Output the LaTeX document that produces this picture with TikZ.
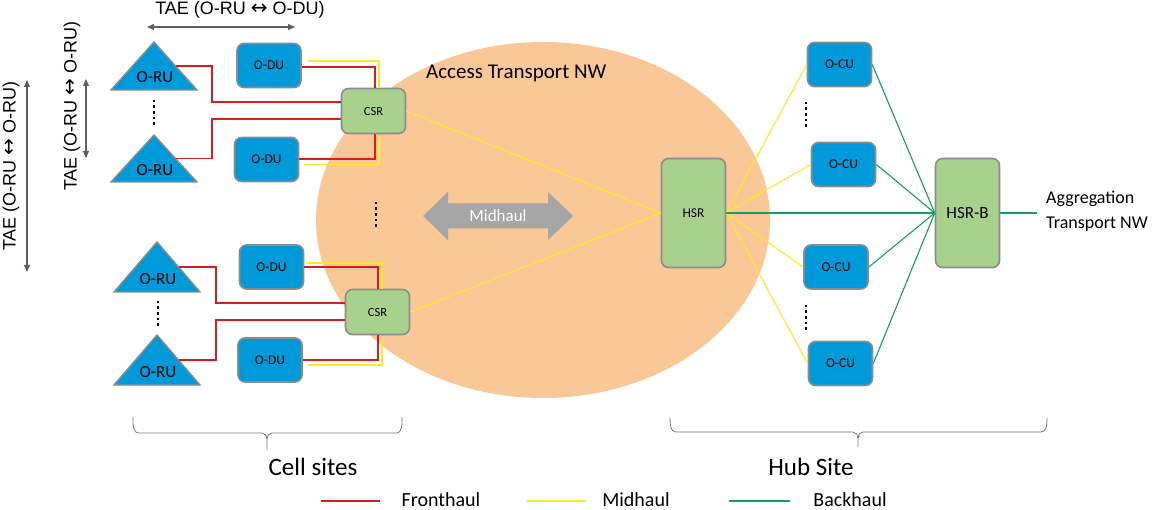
\documentclass[tikz,border=0pt]{standalone}
\usepackage{fontspec}
\setmainfont{Carlito}
\newfontfamily\arialf{Liberation Sans}
\newfontfamily\dejavu{DejaVu Sans}
\usetikzlibrary{arrows.meta,calc}
\definecolor{bluebox}{RGB}{0,154,218}
\definecolor{greenbox}{RGB}{169,209,142}
\definecolor{boxborder}{RGB}{140,140,140}
\definecolor{peach}{RGB}{250,199,150}
\definecolor{fhred}{RGB}{215,30,30}
\definecolor{mhyellow}{RGB}{255,232,40}
\definecolor{bhgreen}{RGB}{20,160,90}
\definecolor{taegray}{RGB}{95,95,95}
\definecolor{midgray}{RGB}{166,166,166}
\definecolor{bracegray}{RGB}{120,120,120}
\tikzset{
  bluebx/.style={draw=boxborder, line width=1.6pt, fill=bluebox, rounded corners=7pt, minimum width=64pt, minimum height=44pt, inner sep=0pt, font=\fontsize{13.5}{15}\selectfont},
  greenbx/.style={draw=boxborder, line width=1.6pt, fill=greenbox, rounded corners=7pt, minimum width=64pt, inner sep=0pt, font=\fontsize{13.5}{15}\selectfont},
  tri/.style={draw=boxborder, line width=1.4pt, fill=bluebox, line join=miter},
  trilabel/.style={font=\fontsize{17}{19}\selectfont, inner sep=0pt},
  fh/.style={draw=fhred, line width=1.1pt},
  mh/.style={draw=mhyellow, line width=1.1pt},
  bh/.style={draw=bhgreen, line width=1.1pt},
  taearrow/.style={draw=taegray, line width=1.1pt, {Triangle[width=6pt,length=7pt]}-{Triangle[width=6pt,length=7pt]}},
  taetext/.style={font=\arialf\fontsize{18}{20}\selectfont, inner sep=0pt},
  bracepath/.style={draw=bracegray, line width=0.8pt},
  lbl/.style={inner sep=0pt},
  legtext/.style={inner sep=0pt, font=\fontsize{20}{22}\selectfont},
}
\newcommand{\dotcol}[2]{\foreach \k in {0,...,4} {\fill (#1-1.3,#2+\k*5.7-1.3) rectangle ++(2.6,2.6);}}
\newcommand{\lrarr}{{\dejavu\fontsize{20}{20}\selectfont ↔}}
\begin{document}
\begin{tikzpicture}[x=1pt,y=-1pt]
\useasboundingbox (0,0) rectangle (1164,510);
% ellipse
\fill[peach] (543,220) ellipse [x radius=227, y radius=178];
\node[lbl, anchor=west, font=\fontsize{21}{23}\selectfont] (atnw) at (426,73) {Access Transport NW};

% TAE arrows and labels
\coordinate (th1) at (147,27); \coordinate (th2) at (295,27);
\draw[taearrow] (th1) -- (th2);
\node[taetext] (taeh) at (240,10) {TAE (O-RU \lrarr\ O-DU)};
\coordinate (tv1a) at (86,79); \coordinate (tv1b) at (86,158);
\draw[taearrow] (tv1a) -- (tv1b);
\node[taetext, rotate=90] (taev1) at (72,106) {TAE (O-RU \lrarr\ O-RU)};
\coordinate (tv2a) at (27,80); \coordinate (tv2b) at (27,272);
\draw[taearrow] (tv2a) -- (tv2b);
\node[taetext, rotate=90] (taev2) at (11,166) {TAE (O-RU \lrarr\ O-RU)};

% O-RU triangles
\draw[tri] (111,90) -- (154,42) -- (197,90) -- cycle;
\node[trilabel] (oru1) at (155,77) {O-RU};
\coordinate (oru1r) at (175.5,66);
\draw[tri] (111,182) -- (154,135) -- (197,182) -- cycle;
\node[trilabel] (oru2) at (155,170) {O-RU};
\coordinate (oru2r) at (175.5,158.5);
\draw[tri] (114,292) -- (157,242) -- (200,292) -- cycle;
\node[trilabel] (oru3) at (158,279) {O-RU};
\coordinate (oru3r) at (178.5,267);
\draw[tri] (114,385) -- (157,335) -- (200,385) -- cycle;
\node[trilabel] (oru4) at (158,372) {O-RU};
\coordinate (oru4r) at (178.5,360);

% dots
\dotcol{154}{101}
\dotcol{158}{302}
\dotcol{376}{203}
\dotcol{806}{103}
\dotcol{806}{306}

% O-DU boxes
\node[bluebx] (odu1) at (269,65.5) {O-DU};
\node[bluebx] (odu2) at (266.5,159.5) {O-DU};
\node[bluebx] (odu3) at (271.5,267) {O-DU};
\node[bluebx] (odu4) at (270,360) {O-DU};

% CSR
\node[greenbx, minimum height=45pt, font=\fontsize{12.5}{14}\selectfont] (csr1) at (373.5,111) {CSR};
\node[greenbx, minimum height=45pt, font=\fontsize{12.5}{14}\selectfont] (csr2) at (377.5,312) {CSR};

% HSR, HSR-B
\node[greenbx, minimum height=109pt] (hsr) at (693.5,213) {HSR};
\node[greenbx, minimum height=109pt, font=\fontsize{17}{19}\selectfont] (hsrb) at (967.5,213) {HSR-B};

% O-CU
\node[bluebx] (ocu1) at (839.5,64.5) {O-CU};
\node[bluebx] (ocu2) at (843.5,164.5) {O-CU};
\node[bluebx] (ocu3) at (836,267) {O-CU};
\node[bluebx] (ocu4) at (840.5,363.5) {O-CU};

% Midhaul big arrow
\fill[midgray] (423,216) -- (448,192) -- (448,203.5) -- (548,203.5) -- (548,192) -- (573,216) -- (548,240) -- (548,228.5) -- (448,228.5) -- (448,240) -- cycle;
\node[lbl, text=white, font=\fontsize{17}{19}\selectfont] (midlbl) at (498,216) {Midhaul};

% Fronthaul lines
\draw[fh] (oru1r) -- ++(36.5,0) |- ([yshift=9pt]csr1.west);
\draw[fh] (oru2r) -- ++(36.5,0) |- ([yshift=-8pt]csr1.west);
\draw[fh] ([yshift=-1.5pt]odu1.east) -| ([xshift=1.5pt]csr1.north);
\draw[fh] ([yshift=0.5pt]odu2.east) -| ([xshift=1.5pt]csr1.south);
\draw[fh] (oru3r) -- ++(37.5,0) |- ([yshift=9pt]csr2.west);
\draw[fh] (oru4r) -- ++(37.5,0) |- ([yshift=-8pt]csr2.west);
\draw[fh] (odu3.east) -| ([xshift=0.5pt]csr2.north);
\draw[fh] (odu4.east) -| ([xshift=0.5pt]csr2.south);

% Midhaul yellow lines near CSRs
\draw[mh] ([xshift=6pt,yshift=4.5pt]odu1.east) -| ([xshift=5.5pt]csr1.north);
\draw[mh] ([xshift=5pt,yshift=-5pt]odu2.east) -| ([xshift=5.5pt,yshift=-4pt]csr1.south);
\draw[mh] ([xshift=3pt,yshift=4pt]odu3.east) -| ([xshift=4.5pt]csr2.north);
\draw[mh] ([xshift=5pt,yshift=-5pt]odu4.east) -| ([xshift=4.5pt,yshift=-4pt]csr2.south);
\draw[mh] (csr1.east) -- (hsr.west);
\draw[mh] (csr2.east) -- (hsr.west);
\draw[mh] (hsr.east) -- (ocu1.west);
\draw[mh] (hsr.east) -- (ocu2.west);
\draw[mh] (hsr.east) -- (ocu3.west);
\draw[mh] (hsr.east) -- (ocu4.west);

% Backhaul green lines
\draw[bh] (hsr.east) -- (hsrb.west);
\draw[bh] (ocu1.east) -- (hsrb.west);
\draw[bh] (ocu2.east) -- (hsrb.west);
\draw[bh] (ocu3.east) -- (hsrb.west);
\draw[bh] (ocu4.east) -- (hsrb.west);
\coordinate (aggend) at (1037,213);
\draw[bh] (hsrb.east) -- (aggend);
\node[lbl, anchor=west, align=left, font=\fontsize{18}{25}\selectfont] (agg) at (1046,211) {Aggregation\\Transport NW};

% Braces
\draw[bracepath] (133,417) to[out=-90,in=180] (139,433) -- (262,433) to[out=0,in=90] (267,439) -- (267,450);
\draw[bracepath] (267,439) to[out=90,in=180] (272,433) -- (396,433) to[out=0,in=-90] (402,417);
\draw[bracepath] (670,418) to[out=-90,in=180] (676,432) -- (853,432) to[out=0,in=90] (858,438) -- (858,447);
\draw[bracepath] (858,438) to[out=90,in=180] (863,432) -- (1041,432) to[out=0,in=-90] (1047,418);
\node[lbl, font=\fontsize{25}{27}\selectfont] (cells) at (313,467) {Cell sites};
\node[lbl, font=\fontsize{25}{27}\selectfont] (hubs) at (811,467) {Hub Site};

% Legend
\coordinate (lfa) at (321,501); \coordinate (lfb) at (380,501);
\draw[draw=fhred, line width=2.6pt] (lfa) -- (lfb);
\node[legtext] (lgf) at (441,500) {Fronthaul};
\coordinate (lma) at (527,501); \coordinate (lmb) at (586,501);
\draw[draw=mhyellow, line width=2.6pt] (lma) -- (lmb);
\node[legtext] (lgm) at (636,500) {Midhaul};
\coordinate (lba) at (729,501); \coordinate (lbb) at (790,501);
\draw[draw=bhgreen, line width=2.6pt] (lba) -- (lbb);
\node[legtext] (lgb) at (850,500) {Backhaul};
\end{tikzpicture}
\end{document}
